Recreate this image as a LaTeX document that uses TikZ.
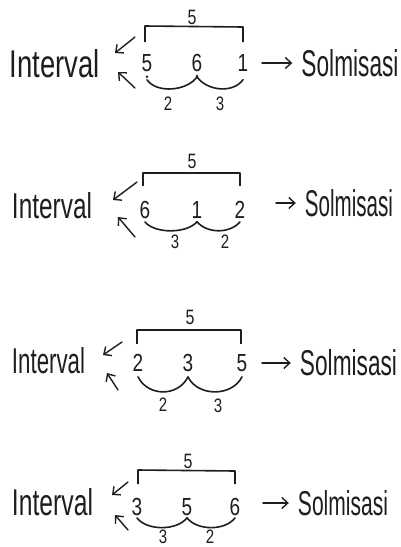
\documentclass[tikz,border=0pt]{standalone}
\usepackage{fontspec}
\setmainfont{Liberation Sans}
\usetikzlibrary{arrows.meta}
\definecolor{ink}{HTML}{1E1E1E}
\newcommand\tallt[1]{\scalebox{1}[1.3]{#1}}
\newcommand\wordbox[3]{\resizebox{#1pt}{#2pt}{#3}}
\tikzset{
  num/.style={inner sep=0pt, text=ink, font=\fontsize{19}{21}\selectfont},
  word/.style={inner sep=0pt, text=ink},
  big/.style={inner sep=0pt, text=ink, font=\fontsize{16}{18}\selectfont},
  lab/.style={inner sep=0pt, text=ink, font=\fontsize{15}{17}\selectfont},
  brk/.style={draw=ink, line width=1.6pt, line join=round},
  arcline/.style={draw=ink, line width=1.6pt, line cap=round},
  arr/.style={draw=ink, line width=1.4pt, line cap=round, -{Straight Barb[length=6pt,width=11pt]}},
  rarr/.style={arr, shorten >=9pt},
  dotmark/.style={fill=ink}
}
\begin{document}
\begin{tikzpicture}[x=1pt, y=-1pt]
\useasboundingbox[fill=white] (0,0) rectangle (401,547);
% ---------------- Row 1 ----------------
\node[word] (r1int) at (55,64) {\wordbox{90}{28}{Interval}};
\node[word] (r1sol) at (350,63) {\wordbox{97}{27}{Solmisasi}};
\node[num] (r1a) at (147,63) {\tallt{5}};
\node[num] (r1b) at (197,63) {\tallt{6}};
\node[num] (r1c) at (243,63) {\tallt{1}};
\fill[dotmark] ([yshift=-5pt]r1a.south) circle (1.4pt);
\fill[dotmark] ([yshift=-4pt]r1b.south) circle (1.4pt);
\coordinate (r1bl) at (145,42); \coordinate (r1tl) at (145,26);
\coordinate (r1tr) at (243,27); \coordinate (r1br) at (243,42);
\draw[brk] (r1bl) -- (r1tl) -- (r1tr) -- (r1br);
\node[big] (r1top) at (192,17) {\tallt{5}};
\draw[arcline] ([yshift=-8pt]r1a.south) .. controls +(10,14) and +(-10,14) .. ([yshift=-5pt]r1b.south);
\draw[arcline] ([yshift=-5pt]r1b.south) .. controls +(10,14) and +(-10,14) .. ([yshift=-8pt]r1c.south);
\node[lab] (r1l1) at (168,104) {\tallt{2}};
\node[lab] (r1l2) at (220,104) {\tallt{3}};
\coordinate (r1u1) at (135,37); \coordinate (r1u2) at (115,53);
\coordinate (r1d1) at (135,88); \coordinate (r1d2) at (118,72);
\draw[arr] (r1u1) -- (r1u2);
\draw[arr] (r1d1) -- (r1d2);
\coordinate (r1ra) at (262,63);
\draw[rarr] (r1ra) -- (r1sol.west);
% ---------------- Row 2 ----------------
\node[word] (r2int) at (52,206) {\wordbox{80}{26}{Interval}};
\node[word] (r2sol) at (349,203) {\wordbox{88}{27}{Solmisasi}};
\node[num] (r2a) at (145,210) {\tallt{6}};
\node[num] (r2b) at (197,210) {\tallt{1}};
\node[num] (r2c) at (240,210) {\tallt{2}};
\coordinate (r2bl) at (143,186); \coordinate (r2tl) at (143,173);
\coordinate (r2tr) at (240,173); \coordinate (r2br) at (240,186);
\draw[brk] (r2bl) -- (r2tl) -- (r2tr) -- (r2br);
\node[big] (r2top) at (192,161) {\tallt{5}};
\draw[arcline] ([yshift=-3pt]r2a.south) .. controls +(10,12) and +(-10,12) .. ([yshift=-3pt]r2b.south);
\draw[arcline] ([yshift=-3pt]r2b.south) .. controls +(10,12) and +(-10,12) .. ([yshift=-3pt]r2c.south);
\node[lab] (r2l1) at (175,242) {\tallt{3}};
\node[lab] (r2l2) at (225,242) {\tallt{2}};
\coordinate (r2u1) at (137,182); \coordinate (r2u2) at (113,200);
\coordinate (r2d1) at (135,237); \coordinate (r2d2) at (118,217);
\draw[arr] (r2u1) -- (r2u2);
\draw[arr] (r2d1) -- (r2d2);
\coordinate (r2ra) at (276,203);
\draw[rarr] (r2ra) -- (r2sol.west);
% ---------------- Row 3 ----------------
\node[word] (r3int) at (48.5,361) {\wordbox{73}{26}{Interval}};
\node[word] (r3sol) at (348.5,363) {\wordbox{97}{26}{Solmisasi}};
\node[num] (r3a) at (138,363) {\tallt{2}};
\node[num] (r3b) at (188,363) {\tallt{3}};
\node[num] (r3c) at (242,363) {\tallt{5}};
\coordinate (r3bl) at (137,344); \coordinate (r3tl) at (137,330);
\coordinate (r3tr) at (241,330); \coordinate (r3br) at (241,344);
\draw[brk] (r3bl) -- (r3tl) -- (r3tr) -- (r3br);
\node[big] (r3top) at (190,317) {\tallt{5}};
\draw[arcline] ([yshift=-5pt]r3a.south) .. controls +(10,20) and +(-10,20) .. ([yshift=-5pt]r3b.south);
\draw[arcline] ([yshift=-5pt]r3b.south) .. controls +(10,20) and +(-10,20) .. ([yshift=-5pt]r3c.south);
\node[lab] (r3l1) at (163,405) {\tallt{2}};
\node[lab] (r3l2) at (218,406) {\tallt{3}};
\coordinate (r3u1) at (122,342); \coordinate (r3u2) at (103,355);
\coordinate (r3d1) at (118,390); \coordinate (r3d2) at (107,373);
\draw[arr] (r3u1) -- (r3u2);
\draw[arr] (r3d1) -- (r3d2);
\coordinate (r3ra) at (262,363);
\draw[rarr] (r3ra) -- (r3sol.west);
% ---------------- Row 4 ----------------
\node[word] (r4int) at (52.5,502) {\wordbox{81}{27}{Interval}};
\node[word] (r4sol) at (343,503) {\wordbox{90}{25}{Solmisasi}};
\node[num] (r4a) at (137,507) {\tallt{3}};
\node[num] (r4b) at (187,507) {\tallt{5}};
\node[num] (r4c) at (235,507) {\tallt{6}};
\coordinate (r4bl) at (138,484); \coordinate (r4tl) at (138,470);
\coordinate (r4tr) at (235,471); \coordinate (r4br) at (235,484);
\draw[brk] (r4bl) -- (r4tl) -- (r4tr) -- (r4br);
\node[big] (r4top) at (188,461) {\tallt{5}};
\draw[arcline] ([yshift=-2pt]r4a.south) .. controls +(10,13) and +(-10,13) .. ([yshift=-2pt]r4b.south);
\draw[arcline] ([yshift=-2pt]r4b.south) .. controls +(10,13) and +(-10,13) .. ([yshift=-2pt]r4c.south);
\node[lab] (r4l1) at (163,537) {\tallt{3}};
\node[lab] (r4l2) at (210,537) {\tallt{2}};
\coordinate (r4u1) at (128,482); \coordinate (r4u2) at (112,495);
\coordinate (r4d1) at (128,530); \coordinate (r4d2) at (115,515);
\draw[arr] (r4u1) -- (r4u2);
\draw[arr] (r4d1) -- (r4d2);
\coordinate (r4ra) at (263,503);
\draw[rarr] (r4ra) -- (r4sol.west);
\end{tikzpicture}
\end{document}
